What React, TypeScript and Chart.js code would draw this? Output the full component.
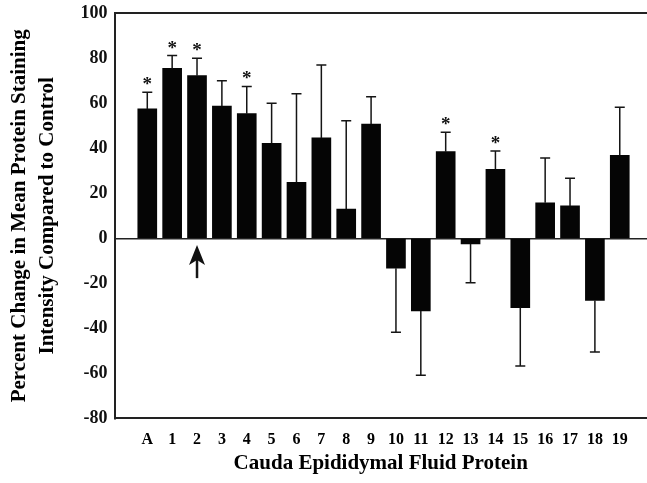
import React, { useEffect, useRef } from "react";
import { Chart, registerables } from "chart.js";

Chart.register(...registerables);

const categories = ["A", "1", "2", "3", "4", "5", "6", "7", "8", "9", "10", "11", "12", "13", "14", "15", "16", "17", "18", "19"];
const means = [57.5, 75.5, 72.3, 58.8, 55.4, 42.2, 24.9, 44.6, 13.0, 50.8, -13.3, -32.3, 38.5, -2.5, 30.7, -30.8, 15.8, 14.4, -27.6, 36.9];
const errors = [7.4, 5.7, 7.7, 11.2, 12.1, 17.8, 39.4, 32.4, 39.3, 12.1, 28.5, 28.6, 8.6, 17.2, 8.1, 26.0, 19.9, 12.3, 22.9, 21.3];
const significant = ["A", "1", "2", "4", "12", "14"];
const arrowCategory = "2";
const arrowTip = -3.0;
const arrowBase = -17.7;
const yTicks = [-80, -60, -40, -20, 0, 20, 40, 60, 80, 100];

const xTitle = "Cauda Epididymal Fluid Protein";
const yTitle = ["Percent Change in Mean Protein Staining", "Intensity Compared to Control"];

const SERIF = '"Liberation Serif", "Times New Roman", serif';

const annotationsPlugin = {
  id: "errAnnotations",
  afterDatasetsDraw(chart: any) {
    const { ctx } = chart;
    const meta = chart.getDatasetMeta(0);
    const ys = chart.scales.y;
    ctx.save();
    ctx.strokeStyle = "#151515";
    ctx.fillStyle = "#111";
    ctx.lineWidth = 1.5;
    ctx.font = `bold 19px ${SERIF}`;
    ctx.textAlign = "center";
    ctx.textBaseline = "alphabetic";
    meta.data.forEach((bar: any, i: number) => {
      const x = bar.x;
      const v = means[i];
      const end = v >= 0 ? v + errors[i] : v - errors[i];
      const y0 = ys.getPixelForValue(v);
      const y1 = ys.getPixelForValue(end);
      ctx.beginPath();
      ctx.moveTo(x, y0);
      ctx.lineTo(x, y1);
      ctx.moveTo(x - 5, y1);
      ctx.lineTo(x + 5, y1);
      ctx.stroke();
      if (significant.includes(categories[i])) {
        const m = ctx.measureText("*");
        const cy = y1 - 11;
        const base = cy + (m.actualBoundingBoxAscent - m.actualBoundingBoxDescent) / 2;
        ctx.fillText("*", x, base);
      }
    });
    // arrow
    const ai = categories.indexOf(arrowCategory);
    const bar = meta.data[ai];
    if (bar) {
      const x = bar.x;
      const tipY = ys.getPixelForValue(arrowTip);
      const baseY = ys.getPixelForValue(arrowBase);
      ctx.lineWidth = 2.5;
      ctx.beginPath();
      ctx.moveTo(x, tipY + 10);
      ctx.lineTo(x, baseY);
      ctx.stroke();
      ctx.beginPath();
      ctx.moveTo(x, tipY);
      ctx.lineTo(x + 8, tipY + 20);
      ctx.lineTo(x, tipY + 15);
      ctx.lineTo(x - 8, tipY + 20);
      ctx.closePath();
      ctx.fill();
    }
    ctx.restore();
  },
};

export default function App() {
  const canvasRef = useRef<HTMLCanvasElement | null>(null);

  useEffect(() => {
    if (!canvasRef.current) return;
    const chart = new Chart(canvasRef.current, {
      type: "bar",
      data: {
        datasets: [
          {
            data: means.map((v, i) => ({ x: i, y: v })),
            backgroundColor: "#050505",
            borderWidth: 0,
            barThickness: 19,
          },
        ],
      },
      options: {
        animation: false,
        responsive: false,
        layout: { padding: { top: 13.3, left: 0, right: 0, bottom: 0 } },
        plugins: { legend: { display: false }, tooltip: { enabled: false } },
        scales: {
          x: {
            type: "linear",
            min: -0.783,
            max: 19.56,
            grid: { display: false, drawTicks: false },
            border: { display: true, color: "#222", width: 2 },
            afterBuildTicks: (scale: any) => {
              scale.ticks = categories.map((_, i) => ({ value: i }));
            },
            afterFit: (scale: any) => {
              scale.height = 64.7;
              scale.paddingLeft = 0;
              scale.paddingRight = 0;
            },
            ticks: {
              autoSkip: false,
              maxRotation: 0,
              minRotation: 0,
              padding: 12,
              color: "#000",
              font: { family: SERIF, size: 16, weight: "bold" },
              callback: (value: any) => categories[value] ?? "",
            },
            title: {
              display: true,
              text: xTitle,
              color: "#000",
              font: { family: SERIF, size: 21, weight: "bold", lineHeight: 1.2 },
              padding: { top: 0, bottom: 7 },
            },
          },
          y: {
            type: "linear",
            min: -80,
            max: 100,
            afterBuildTicks: (scale: any) => {
              scale.ticks = yTicks.map((v) => ({ value: v }));
            },
            afterFit: (scale: any) => {
              scale.width = 114.5;
              scale.paddingTop = 0;
              scale.paddingBottom = 0;
            },
            grid: {
              display: true,
              drawTicks: false,
              color: (c: any) =>
                c.tick && (c.tick.value === 0 || c.tick.value === 100) ? "#222" : "rgba(0,0,0,0)",
              lineWidth: (c: any) => (c.tick && c.tick.value === 100 ? 2 : 1.5),
            },
            border: { display: true, color: "#222", width: 2 },
            ticks: {
              padding: 7,
              color: "#111",
              font: { family: SERIF, size: 18, weight: "bold" },
            },
            title: {
              display: true,
              text: yTitle,
              color: "#000",
              font: { family: SERIF, size: 21, weight: "bold", lineHeight: 1.35 },
              padding: { top: 5, bottom: 0 },
            },
          },
        },
      },
      plugins: [annotationsPlugin],
    } as any);
    return () => chart.destroy();
  }, []);

  return (
    <div style={{ position: "fixed", left: 0, top: 0, width: 647, height: 483, background: "#fff" }}>
      <canvas ref={canvasRef} width={647} height={483} style={{ display: "block" }} />
    </div>
  );
}
